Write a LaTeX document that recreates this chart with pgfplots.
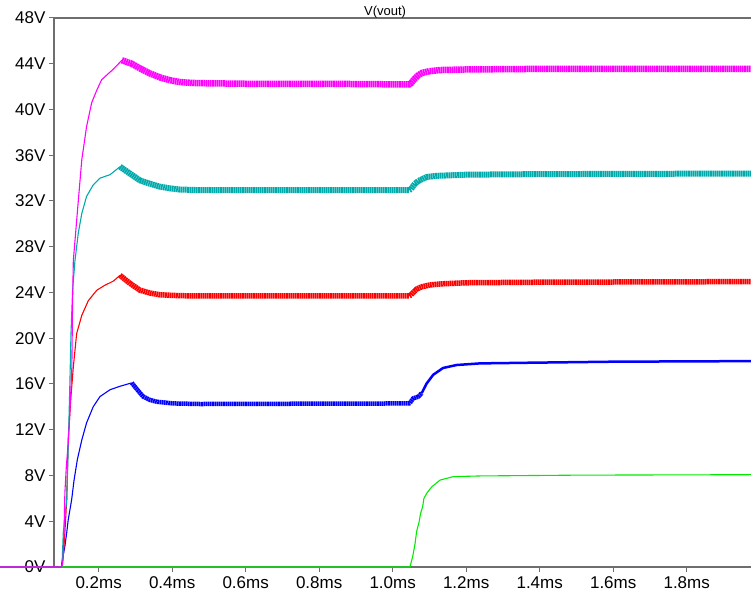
\documentclass[border=0pt]{standalone}
\usepackage{fontspec}
\setmainfont{Liberation Sans}
\usepackage{pgfplots}
\pgfplotsset{compat=1.18}
\definecolor{vmag}{RGB}{255,0,255}
\definecolor{vcyan}{RGB}{0,170,170}
\definecolor{vred}{RGB}{255,0,0}
\definecolor{vblue}{RGB}{0,0,255}
\definecolor{vgreen}{RGB}{0,235,0}
\definecolor{axisgray}{RGB}{110,110,110}
\begin{document}
\begin{tikzpicture}
\begin{axis}[name=ax, scale only axis, width=697pt, height=549pt,
  xmin=0.0784, xmax=1.975, ymin=0, ymax=48,
  clip=false,
  axis line style={draw=none},
  xtick={0.2,0.4,0.6,0.8,1.0,1.2,1.4,1.6,1.8},
  xticklabels={0.2ms,0.4ms,0.6ms,0.8ms,1.0ms,1.2ms,1.4ms,1.6ms,1.8ms},
  ytick={0,4,8,12,16,20,24,28,32,36,40,44,48},
  yticklabels={0V,4V,8V,12V,16V,20V,24V,28V,32V,36V,40V,44V,48V},
  tick align=outside, xtick pos=bottom, ytick pos=left,
  major tick length=5pt,
  tick style={axisgray, line width=1pt},
  tick label style={font=\fontsize{17}{17}\selectfont, text=black},
  xticklabel style={yshift=-1pt},
  /pgf/number format/assume math mode=true,
  thin/.style={line width=1.1pt, line join=round},
  band/.style={line width=#1, line cap=butt, line join=miter, dash pattern=on 1.7pt off 0.5pt},
]
\draw[axisgray, line width=1.6pt] (rel axis cs:0,0) -- (rel axis cs:0,1) -- (rel axis cs:1,1);
\draw[axisgray, line width=1.6pt] (rel axis cs:0,0) -- (rel axis cs:1,0);
\node[anchor=base, font=\fontsize{13}{13}\selectfont, inner sep=0pt] at ([yshift=2pt]rel axis cs:0.475,1) {V(vout)};

% blue
\addplot[vblue, thin] coordinates {(-0.0686,0) (0.0993,0) (0.0993,0.3) (0.108,1.8) (0.113,3.0) (0.117,4.1) (0.1265,5.9) (0.133,7.6) (0.142,9.4) (0.154,11.1) (0.167,12.6) (0.185,14.0) (0.2035,14.9) (0.231,15.5) (0.258,15.8) (0.290,16.1)};
\addplot[vblue, band=4.5pt] coordinates {(0.290,16.1) (0.305,15.5) (0.321,14.9) (0.34,14.6) (0.358,14.45) (0.403,14.3) (0.476,14.25) (0.8,14.28) (1.045,14.3) (1.047,14.35) (1.056,14.75) (1.070,14.9) (1.079,15.2)};
\addplot[vblue, line width=2.5pt] coordinates {(1.079,15.2) (1.0925,16.05) (1.110,16.8) (1.137,17.4) (1.174,17.66) (1.237,17.8) (1.373,17.86) (1.6,17.95) (1.975,18.0)};
% red
\addplot[vred, thin] coordinates {(-0.0686,0) (0.100,0) (0.1037,1.0) (0.108,3.0) (0.113,5.9) (0.117,11.1) (0.1238,14.6) (0.131,17.5) (0.140,20.4) (0.154,22.0) (0.172,23.3) (0.195,24.2) (0.215,24.6) (0.24,25.0) (0.258,25.5)};
\addplot[vred, band=5.5pt] coordinates {(0.258,25.5) (0.285,24.8) (0.3124,24.2) (0.34,23.95) (0.367,23.8) (0.42,23.72) (0.476,23.7) (1.045,23.7) (1.05,23.8) (1.065,24.3) (1.079,24.5) (1.1,24.65) (1.13,24.75) (1.2,24.85) (1.4,24.9) (1.975,24.95)};
% cyan
\addplot[vcyan, thin] coordinates {(-0.0686,0) (0.100,0) (0.1037,3) (0.113,5.9) (0.117,10.2) (0.122,16.6) (0.1246,20.4) (0.129,24.2) (0.1355,26.8) (0.1445,29.2) (0.154,30.9) (0.167,32.4) (0.185,33.4) (0.2035,34.0) (0.231,34.3) (0.258,35.0)};
\addplot[vcyan, band=6pt] coordinates {(0.258,35.0) (0.285,34.4) (0.3124,33.8) (0.34,33.5) (0.367,33.25) (0.395,33.1) (0.421,33.0) (0.476,32.95) (0.7,32.95) (1.045,32.95) (1.05,33.05) (1.06,33.5) (1.07,33.75) (1.0925,34.1) (1.12,34.2) (1.2,34.3) (1.4,34.35) (1.975,34.4)};
% magenta
\addplot[vmag, thin] coordinates {(-0.0686,0) (0.100,0) (0.103,0.6) (0.106,3.5) (0.108,6.5) (0.112,8.8) (0.117,10.8) (0.122,13.7) (0.127,17.5) (0.129,23.3) (0.131,26.8) (0.138,29.5) (0.1445,32) (0.154,35.6) (0.167,38.5) (0.181,40.6) (0.195,41.7) (0.208,42.6) (0.225,43.1) (0.239,43.5) (0.263,44.3)};
\addplot[vmag, band=6.5pt] coordinates {(0.263,44.3) (0.29,44.0) (0.312,43.6) (0.34,43.15) (0.367,42.8) (0.395,42.55) (0.421,42.4) (0.45,42.33) (0.476,42.3) (0.6,42.25) (0.8,42.25) (1.0,42.2) (1.045,42.2) (1.05,42.3) (1.06,42.7) (1.07,43.0) (1.08,43.2) (1.10,43.35) (1.13,43.45) (1.2,43.5) (1.4,43.55) (1.975,43.55)};
% green
\addplot[vgreen, thin] coordinates {(0.100,0) (1.047,0) (1.055,1.0) (1.061,2.07) (1.065,3.09) (1.072,3.96) (1.076,4.7) (1.0815,5.27) (1.085,6.0) (1.0925,6.44) (1.106,7.0) (1.129,7.6) (1.165,7.9) (1.237,7.96) (1.5,8.03) (1.975,8.07)};
\end{axis}
\pgfresetboundingbox
\path ([shift={(-54pt,-25pt)}]ax.south west) rectangle ([yshift=18pt]ax.north east);
\end{tikzpicture}
\end{document}
